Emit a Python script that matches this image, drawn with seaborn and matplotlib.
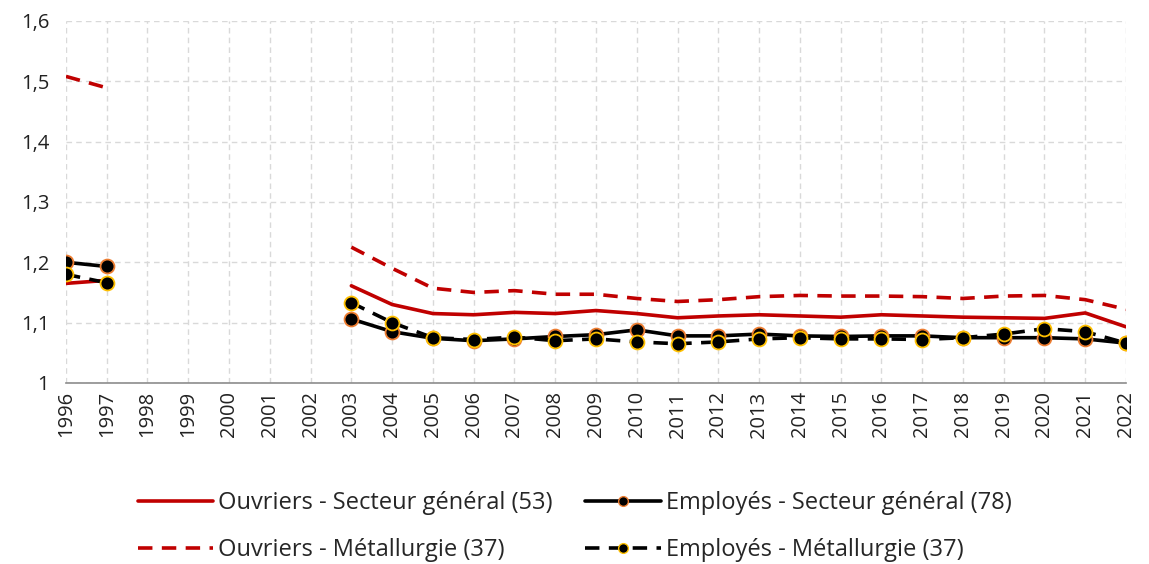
import pandas as pd
import numpy as np
import matplotlib
matplotlib.use("Agg")
import matplotlib.pyplot as plt
import seaborn as sns
from matplotlib.ticker import FuncFormatter, MultipleLocator

years = list(range(1996, 2023))

# values per year, None = no data (1998-2002)
gap = [None] * 5
ouvriers_general = [1.165, 1.170] + gap + [1.161, 1.130, 1.115, 1.113, 1.117, 1.115, 1.120, 1.115, 1.108, 1.111,
                                           1.113, 1.111, 1.109, 1.113, 1.111, 1.109, 1.108, 1.107, 1.116, 1.093]
employes_general = [1.200, 1.193] + gap + [1.106, 1.085, 1.074, 1.070, 1.073, 1.077, 1.080, 1.088, 1.078, 1.078,
                                           1.081, 1.078, 1.077, 1.078, 1.078, 1.075, 1.075, 1.075, 1.073, 1.066]
ouvriers_metal = [1.508, 1.489] + gap + [1.225, 1.190, 1.157, 1.150, 1.153, 1.147, 1.147, 1.140, 1.135, 1.138,
                                         1.143, 1.145, 1.144, 1.144, 1.143, 1.140, 1.144, 1.145, 1.138, 1.122]
employes_metal = [1.180, 1.166] + gap + [1.133, 1.100, 1.075, 1.072, 1.076, 1.070, 1.073, 1.068, 1.065, 1.068,
                                         1.073, 1.075, 1.073, 1.073, 1.072, 1.075, 1.081, 1.090, 1.085, 1.066]

labels = ["Ouvriers - Secteur général (53)", "Employés - Secteur général (78)",
          "Ouvriers - Métallurgie (37)", "Employés - Métallurgie (37)"]
values = [ouvriers_general, employes_general, ouvriers_metal, employes_metal]

red = "#c00000"
styles = {
    labels[0]: dict(color=red, linestyle="-", marker=None),
    labels[1]: dict(color="black", linestyle="-", marker="o", markeredgecolor="#ed7d31"),
    labels[2]: dict(color=red, linestyle=(0, (4, 2.6)), marker=None),
    labels[3]: dict(color="black", linestyle=(0, (4, 2.6)), marker="o", markeredgecolor="#ffc000"),
}

rows = []
for lab, vals in zip(labels, values):
    for y, v in zip(years, vals):
        if v is not None:
            rows.append({"year": y, "value": v, "serie": lab, "segment": 0 if y < 2000 else 1})
df = pd.DataFrame(rows)

sns.set_style("white")
plt.rcParams["font.family"] = ["Open Sans", "DejaVu Sans"]

fig = plt.figure(figsize=(11.49, 5.64), dpi=100)
ax = fig.add_axes([0.0574, 0.321, 0.9226, 0.642])

handles = []
for lab in labels:
    st = styles[lab]
    for seg in [0, 1]:
        sub = df[(df.serie == lab) & (df.segment == seg)]
        sns.lineplot(data=sub, x="year", y="value", ax=ax, color=st["color"], linewidth=2.6,
                     linestyle=st["linestyle"], marker=st["marker"], markersize=10,
                     markeredgecolor=st.get("markeredgecolor"), markeredgewidth=1.3,
                     markerfacecolor="black", errorbar=None, legend=False)
    handles.append(plt.Line2D([], [], color=st["color"], linewidth=2.6, linestyle=st["linestyle"],
                              marker=st["marker"], markersize=7, markerfacecolor="black",
                              markeredgecolor=st.get("markeredgecolor"), label=lab))

ax.set_xlim(1996, 2022)
ax.set_ylim(1, 1.6)
ax.set_xticks(years)
ax.set_xticklabels([str(y) for y in years], rotation=90)
ax.yaxis.set_major_locator(MultipleLocator(0.1))
ax.yaxis.set_major_formatter(FuncFormatter(lambda v, p: ("%g" % round(v, 1)).replace(".", ",")))
ax.tick_params(axis="both", labelsize=14.5, length=0, colors="#222222")
ax.tick_params(axis="y", pad=12)
ax.tick_params(axis="x", pad=6)
ax.set_xlabel("")
ax.set_ylabel("")
ax.grid(True, color="#d9d9d9", linestyle=(0, (4, 3)), linewidth=1)
for s in ["top", "right", "left"]:
    ax.spines[s].set_visible(False)
ax.spines["bottom"].set_color("#8c8c8c")
ax.spines["bottom"].set_linewidth(1.2)

order = [handles[0], handles[2], handles[1], handles[3]]
fig.legend(handles=order, loc="lower center", bbox_to_anchor=(0.5, -0.035), ncol=2, frameon=False,
           fontsize=17, handlelength=3.2, handletextpad=0.2, columnspacing=1.4, labelspacing=1.0)

plt.savefig("out.png", dpi=100)
